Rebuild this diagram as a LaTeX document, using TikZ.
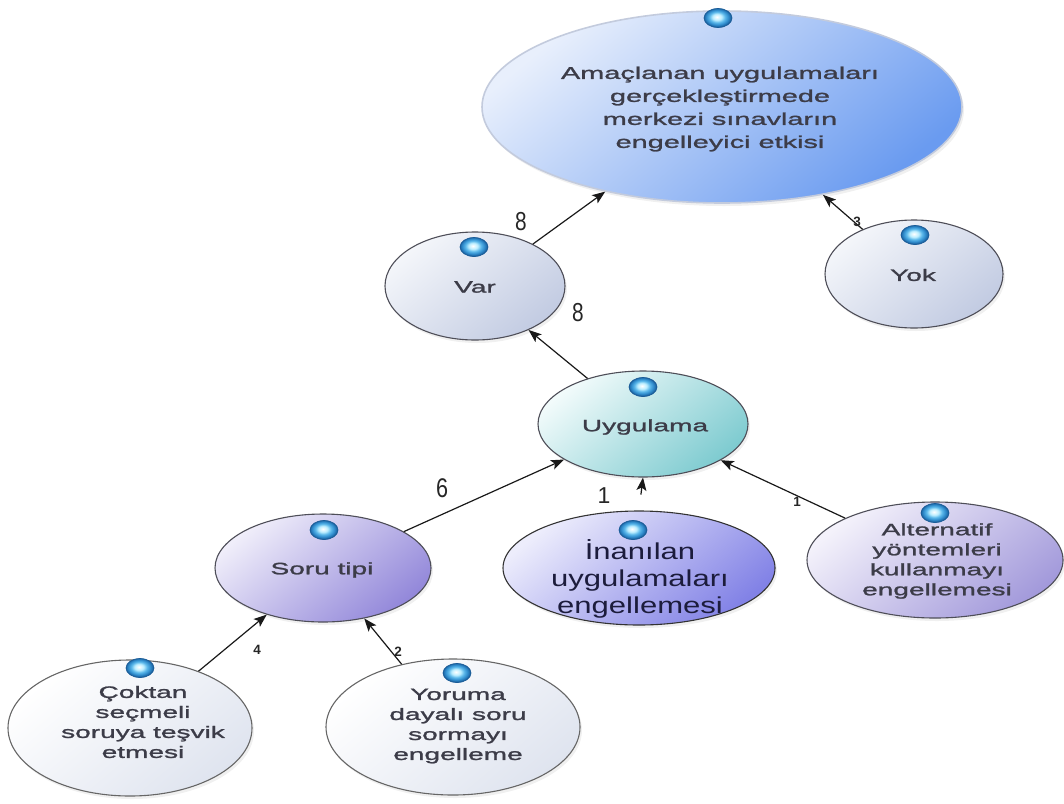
\documentclass[tikz,border=0pt]{standalone}
\usepackage{fontspec}
\setmainfont{Liberation Sans}
\newfontfamily\nodefont[FakeStretch=1.7,FakeBold=1.4]{Liberation Sans}
\newfontfamily\inanfont[FakeStretch=1.35]{Liberation Sans}
\newfontfamily\narrowfont[FakeStretch=0.8]{Liberation Sans}
\usetikzlibrary{shapes.geometric,arrows.meta,shadows}

% palette
\definecolor{txtgray}{HTML}{3C3C48}
\definecolor{txtnavy}{HTML}{1C1C3C}
\definecolor{edgegray}{HTML}{4E4E58}
\definecolor{aimA}{HTML}{E8EFFC}
\definecolor{aimB}{HTML}{6A9BF0}
\definecolor{aimedge}{HTML}{C3CBDD}
\definecolor{greyA}{HTML}{F4F6FA}
\definecolor{greyB}{HTML}{C2CBE2}
\definecolor{tealA}{HTML}{F2FBFB}
\definecolor{tealB}{HTML}{7ECBD0}
\definecolor{lilacA}{HTML}{F0EEFA}
\definecolor{lilacB}{HTML}{9388DA}
\definecolor{blueA}{HTML}{EDEDFC}
\definecolor{blueB}{HTML}{8282E6}
\definecolor{paleA}{HTML}{F4F2FB}
\definecolor{paleB}{HTML}{A39ADB}
\definecolor{whiteA}{HTML}{FFFFFF}
\definecolor{whiteB}{HTML}{DFE4EF}
\definecolor{dotlight}{HTML}{BDEEFF}
\definecolor{dotmid}{HTML}{5CB8EA}
\definecolor{dotring}{HTML}{2E8ACB}
\definecolor{dotdark}{HTML}{1A5C98}

% glossy marker placed on every bubble
\pgfdeclareradialshading{dotball}{\pgfpoint{-2bp}{3bp}}{%
  color(0bp)=(white); color(8bp)=(dotlight); color(14bp)=(dotmid);
  color(20bp)=(dotring); color(25bp)=(dotdark); color(50bp)=(dotdark)}

\tikzset{
  bubble/.style={ellipse, inner sep=0pt, draw=edgegray, line width=1.1pt,
    drop shadow={opacity=0.12, shadow xshift=2pt, shadow yshift=-3pt}},
  % light corner at the upper left, deeper tone at the lower right
  tint/.style n args={2}{top color=#1, bottom color=#2, shading angle=40},
  greybub/.style={bubble, tint={greyA}{greyB}},
  tealbub/.style={bubble, tint={tealA}{tealB}},
  lilacbub/.style={bubble, tint={lilacA}{lilacB}},
  bluebub/.style={bubble, tint={blueA}{blueB}, draw=black!80},
  palebub/.style={bubble, tint={paleA}{paleB}},
  whitebub/.style={bubble, tint={whiteA}{whiteB}, draw=black!60},
  marker/.style={ellipse, inner sep=0pt, minimum width=28pt, minimum height=19pt,
    shading=dotball, draw=dotdark, line width=0.7pt},
  txt/.style={inner sep=0pt, align=center, text=txtgray,
    font=\nodefont\fontsize{16.5pt}{20pt}\selectfont},
  conn/.style={draw=black!90, line width=1.2pt,
    -{Stealth[length=13pt,width=10pt,inset=3pt]}},
  bignum/.style={inner sep=0pt, text=black!85,
    font=\narrowfont\fontsize{26pt}{26pt}\selectfont},
  midnum/.style={inner sep=0pt, text=black!85,
    font=\fontsize{23pt}{23pt}\selectfont},
  smallnum/.style={inner sep=0pt, text=black!85,
    font=\bfseries\fontsize{13.5pt}{13.5pt}\selectfont},
}

\begin{document}
\begin{tikzpicture}[x=1pt,y=-1pt]
\useasboundingbox (0,0) rectangle (1064,803);

% bubbles
\node[bubble, tint={aimA}{aimB}, draw=aimedge, line width=1.6pt,
      minimum width=480pt, minimum height=192pt] (aim) at (722,107) {};
\node[greybub, minimum width=180pt, minimum height=108pt] (var) at (475,286) {};
\node[greybub, minimum width=178pt, minimum height=108pt] (yok) at (914,274) {};
\node[tealbub, minimum width=210pt, minimum height=106pt] (uyg) at (643,424) {};
\node[lilacbub, minimum width=216pt, minimum height=108pt] (soru) at (323,568) {};
\node[bluebub, minimum width=272pt, minimum height=114pt] (inan) at (639,568) {};
\node[palebub, minimum width=256pt, minimum height=116pt] (alt) at (935,560) {};
\node[whitebub, minimum width=244pt, minimum height=136pt] (cok) at (130,728) {};
\node[whitebub, minimum width=254pt, minimum height=136pt] (yor) at (453,727) {};

% texts
\node[txt, font=\nodefont\fontsize{17pt}{23pt}\selectfont] (aim-t) at (720,109)
  {Amaçlanan uygulamaları\\gerçekleştirmede\\merkezi sınavların\\engelleyici etkisi};
\node[txt] (var-t) at (475,287) {Var};
\node[txt] (yok-t) at (913,275) {Yok};
\node[txt] (uyg-t) at (645,427) {Uygulama};
\node[txt] (soru-t) at (322,570) {Soru tipi};
\node[txt, text=txtnavy, font=\inanfont\fontsize{23pt}{27pt}\selectfont] (inan-t) at (640,579)
  {İnanılan\\uygulamaları\\engellemesi};
\node[txt] (alt-t) at (937,561) {Alternatif\\yöntemleri\\kullanmayı\\engellemesi};
\node[txt] (cok-t) at (143,722) {Çoktan\\seçmeli\\soruya teşvik\\etmesi};
\node[txt] (yor-t) at (458,726) {Yoruma\\dayalı soru\\sormayı\\engelleme};

% markers
\node[marker] (aim-d) at (718,18) {};
\node[marker] (var-d) at (474,247) {};
\node[marker] (yok-d) at (915,235) {};
\node[marker] (uyg-d) at (643,387) {};
\node[marker] (soru-d) at (324,530) {};
\node[marker] (inan-d) at (633,530) {};
\node[marker] (alt-d) at (935,513) {};
\node[marker] (cok-d) at (140,668) {};
\node[marker] (yor-d) at (457,673) {};

% connectors
\draw[conn] (var) -- (aim);
\draw[conn] (yok) -- (aim);
\draw[conn] (uyg) -- (var);
\draw[conn] (soru) -- (uyg);
\draw[conn, shorten <=16pt] (inan.north) -- (uyg.south);
\draw[conn] (alt) -- (uyg);
\draw[conn] (cok) -- (soru);
\draw[conn] (yor) -- (soru);

% counts
\node[bignum] (n-var-aim) at (521,222) {8};
\node[bignum] (n-uyg-var) at (578,313) {8};
\node[bignum, font=\narrowfont\fontsize{27pt}{27pt}\selectfont] (n-soru) at (442,488) {6};
\node[midnum] (n-inan) at (604,496) {1};
\node[smallnum] (n-alt) at (797,502) {1};
\node[smallnum] (n-yok) at (857,222) {3};
\node[smallnum] (n-cok) at (257,650) {4};
\node[smallnum] (n-yor) at (398,652) {2};
\end{tikzpicture}
\end{document}
